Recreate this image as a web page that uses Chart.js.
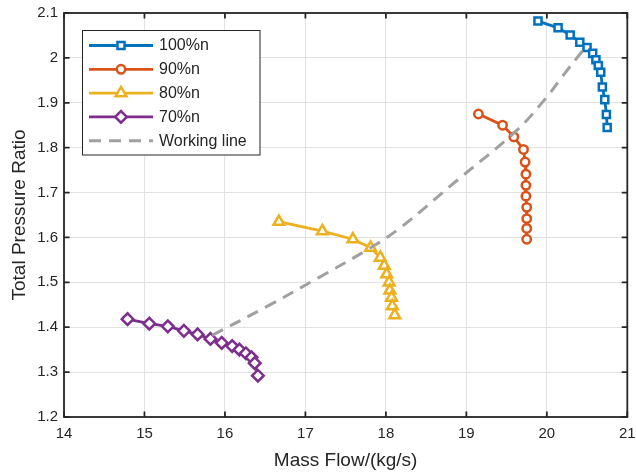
<!DOCTYPE html>
<html><head><meta charset="utf-8">
<script src="https://cdn.jsdelivr.net/npm/chart.js@4.4.1/dist/chart.umd.min.js"></script>
<style>html,body{margin:0;padding:0;background:#fff}#wrap{width:636px;height:473px}</style>
</head><body><div id="wrap"><canvas id="c" width="636" height="473"></canvas></div>
<script>
// ---- data ----
const flow100 = [19.89, 20.14, 20.29, 20.41, 20.50, 20.57, 20.61, 20.64, 20.67, 20.69, 20.72, 20.74, 20.75];
const pr100   = [2.082, 2.067, 2.051, 2.035, 2.023, 2.010, 1.996, 1.983, 1.968, 1.935, 1.907, 1.874, 1.845];
const flow90  = [19.15, 19.45, 19.59, 19.71, 19.73, 19.74, 19.74, 19.74, 19.75, 19.75, 19.75, 19.75];
const pr90    = [1.875, 1.850, 1.824, 1.796, 1.768, 1.741, 1.716, 1.692, 1.667, 1.642, 1.620, 1.596];
const flow80  = [16.67, 17.21, 17.59, 17.81, 17.93, 17.98, 18.01, 18.04, 18.05, 18.07, 18.08, 18.11];
const pr80    = [1.635, 1.614, 1.596, 1.577, 1.555, 1.537, 1.518, 1.500, 1.482, 1.466, 1.447, 1.427];
const flow70  = [14.79, 15.06, 15.29, 15.49, 15.66, 15.82, 15.96, 16.09, 16.18, 16.26, 16.33, 16.37, 16.41];
const pr70    = [1.418, 1.408, 1.402, 1.392, 1.384, 1.374, 1.365, 1.358, 1.350, 1.342, 1.333, 1.320, 1.292];
const flowWL  = [15.84, 16.54, 17.16, 17.81, 18.19, 18.89, 19.63, 20.00, 20.19, 20.48];
const prWL    = [1.382, 1.448, 1.510, 1.577, 1.623, 1.728, 1.839, 1.913, 1.958, 2.024];
const seriesNames = ['100%n', '90%n', '80%n', '70%n', 'Working line'];
const xTicks = [14, 15, 16, 17, 18, 19, 20, 21];
const xTickLabels = ['14', '15', '16', '17', '18', '19', '20', '21'];
const yTicks = [1.2, 1.3, 1.4, 1.5, 1.6, 1.7, 1.8, 1.9, 2.0, 2.1];
const yTickLabels = ['1.2', '1.3', '1.4', '1.5', '1.6', '1.7', '1.8', '1.9', '2', '2.1'];
const xTitle = 'Mass Flow/(kg/s)';
const yTitle = 'Total Pressure Ratio';

const pts = (xs, ys) => xs.map((x, i) => ({x: x, y: ys[i]}));
const FONT = '"Liberation Sans", Arial, Helvetica, sans-serif';
const AX = '#262626';

function mk(label, xs, ys, color, style, r) {
  return {
    label: label, data: pts(xs, ys), showLine: true,
    borderColor: color, backgroundColor: '#ffffff', borderWidth: 2.8,
    pointStyle: style, pointRadius: r, pointHoverRadius: r,
    pointBorderColor: color, pointBackgroundColor: '#ffffff', pointBorderWidth: 2.5,
    order: 1
  };
}

const datasets = [
  mk(seriesNames[0], flow100, pr100, '#0072BD', 'rect', 5.0),
  mk(seriesNames[1], flow90, pr90, '#D95319', 'circle', 4.2),
  mk(seriesNames[2], flow80, pr80, '#EDB120', 'triangle', 6.2),
  mk(seriesNames[3], flow70, pr70, '#7E2F8E', 'rectRot', 5.8),
  {
    label: seriesNames[4], data: pts(flowWL, prWL), showLine: true,
    borderColor: '#a0a0a0', borderWidth: 3, borderDash: [12, 8],
    pointRadius: 0, pointHoverRadius: 0, tension: 0.35, order: 0
  }
];

function drawMarker(ctx, ds, x, y) {
  const st = {pointStyle: ds.pointStyle, rotation: 0, radius: ds.pointRadius, borderWidth: ds.pointBorderWidth};
  ctx.save();
  ctx.strokeStyle = ds.pointBorderColor; ctx.fillStyle = ds.pointBackgroundColor;
  ctx.lineWidth = ds.pointBorderWidth;
  Chart.helpers.drawPoint(ctx, st, x, y);
  ctx.restore();
}

const frame = {
  id: 'frame',
  afterDatasetsDraw(chart) {
    const {ctx, chartArea: a, scales: {x, y}} = chart;
    const tl = 5.6;
    ctx.save();
    ctx.strokeStyle = AX; ctx.lineWidth = 1.8;
    ctx.strokeRect(a.left, a.top, a.right - a.left, a.bottom - a.top);
    ctx.beginPath();
    xTicks.forEach(v => {
      const px = x.getPixelForValue(v);
      ctx.moveTo(px, a.bottom); ctx.lineTo(px, a.bottom - tl);
      ctx.moveTo(px, a.top); ctx.lineTo(px, a.top + tl);
    });
    yTicks.forEach(v => {
      const py = y.getPixelForValue(v);
      ctx.moveTo(a.left, py); ctx.lineTo(a.left + tl, py);
      ctx.moveTo(a.right, py); ctx.lineTo(a.right - tl, py);
    });
    ctx.stroke();
    ctx.restore();
  },
  afterDraw(chart) {
    const ctx = chart.ctx;
    const bx = 82.5, by = 30.5, bw = 177.5, bh = 124.5;
    ctx.save();
    ctx.fillStyle = '#ffffff';
    ctx.fillRect(bx, by, bw, bh);
    ctx.strokeStyle = AX; ctx.lineWidth = 1;
    ctx.strokeRect(bx, by, bw, bh);
    const x0 = 89, x1 = 153, tx = 159;
    chart.data.datasets.forEach((ds, i) => {
      const yy = 45.5 + i * 23.8;
      ctx.save();
      ctx.strokeStyle = ds.borderColor; ctx.lineWidth = ds.borderWidth;
      if (ds.borderDash) ctx.setLineDash(ds.borderDash);
      ctx.beginPath(); ctx.moveTo(x0, yy); ctx.lineTo(x1, yy); ctx.stroke();
      ctx.restore();
      if (ds.pointRadius > 0) drawMarker(ctx, ds, (x0 + x1) / 2, yy);
      ctx.fillStyle = AX;
      ctx.font = '16px ' + FONT;
      ctx.textBaseline = 'middle'; ctx.textAlign = 'left';
      ctx.fillText(ds.label, tx, yy + 0.5);
    });
    ctx.restore();
  }
};

new Chart(document.getElementById('c'), {
  type: 'scatter',
  data: {datasets: datasets},
  plugins: [frame],
  options: {
    responsive: false, animation: false, devicePixelRatio: 1,
    layout: {padding: {left: 0, right: 5, top: 13, bottom: 0}},
    plugins: {legend: {display: false}, tooltip: {enabled: false}},
    scales: {
      x: {
        type: 'linear', min: 14, max: 21,
        afterBuildTicks: s => { s.ticks = xTicks.map(v => ({value: v})); },
        afterFit: s => { s.height = 56; s.paddingLeft = 0; s.paddingRight = 0; },
        grid: {color: '#e2e2e2', lineWidth: 1, drawTicks: false},
        border: {display: false},
        ticks: {autoSkip: false, maxRotation: 0, padding: 8, color: AX,
          font: {family: FONT, size: 15},
          callback: (v, i) => xTickLabels[i]},
        title: {display: true, text: xTitle, color: AX, font: {family: FONT, size: 19},
          padding: {top: 0, bottom: 1}}
      },
      y: {
        type: 'linear', min: 1.2, max: 2.1,
        afterBuildTicks: s => { s.ticks = yTicks.map(v => ({value: v})); },
        afterFit: s => { s.width = 64; s.paddingTop = 0; s.paddingBottom = 0; },
        grid: {color: '#e2e2e2', lineWidth: 1, drawTicks: false},
        border: {display: false},
        ticks: {autoSkip: false, padding: 6, color: AX,
          font: {family: FONT, size: 15},
          callback: (v, i) => yTickLabels[i]},
        title: {display: true, text: yTitle, color: AX, font: {family: FONT, size: 19},
          padding: {top: 8, bottom: 0}}
      }
    }
  }
});
</script>
</body></html>
